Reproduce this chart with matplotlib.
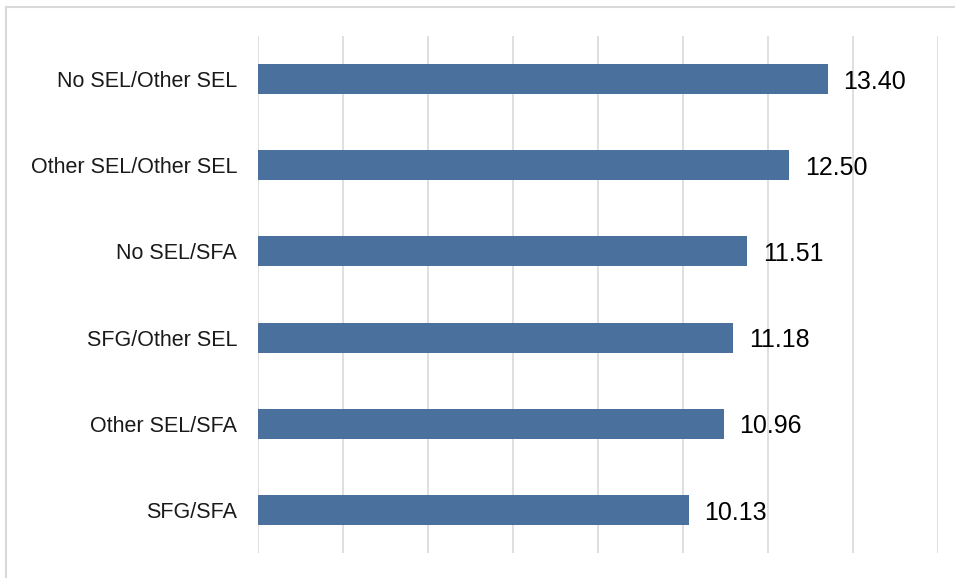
import matplotlib
matplotlib.use("Agg")
import matplotlib.pyplot as plt
from matplotlib.lines import Line2D

categories = ["No SEL/Other SEL", "Other SEL/Other SEL", "No SEL/SFA",
              "SFG/Other SEL", "Other SEL/SFA", "SFG/SFA"]
values = [13.40, 12.50, 11.51, 11.18, 10.96, 10.13]
value_labels = ["13.40", "12.50", "11.51", "11.18", "10.96", "10.13"]

plt.rcParams['font.family'] = ['Liberation Sans', 'DejaVu Sans']

W, H = 955, 578
fig = plt.figure(figsize=(W / 100, H / 100), dpi=100)
ax = fig.add_axes([258 / W, 1 - 553 / H, (938 - 258) / W, (553 - 36) / H])

y = list(range(len(categories)))
ax.barh(y, values, height=0.35, color="#4A709D", zorder=3)
ax.set_xlim(0, 16)
ax.set_ylim(len(categories) - 0.5, -0.5)
ax.set_xticks(range(0, 17, 2))
ax.set_xticklabels([])
ax.tick_params(axis='x', length=0)
ax.tick_params(axis='y', length=0, pad=15, labelsize=15.5)
ax.set_yticks(y)
ax.set_yticklabels(categories, color="#1a1a1a")
ax.grid(axis='x', color="#D9D9D9", linewidth=1.2, zorder=0)
for s in ax.spines.values():
    s.set_visible(False)

for yi, v, lab in zip(y, values, value_labels):
    ax.text(v + 0.37, yi + 0.03, lab, va='center', ha='left', fontsize=18,
            color='black', fontweight='medium')

fig.add_artist(Line2D([6 / W, 1], [1 - 7 / H, 1 - 7 / H], color="#D9D9D9", linewidth=1.5))
fig.add_artist(Line2D([6 / W, 6 / W], [0, 1 - 7 / H], color="#D9D9D9", linewidth=1.5))

fig.savefig("out.png", dpi=100)
